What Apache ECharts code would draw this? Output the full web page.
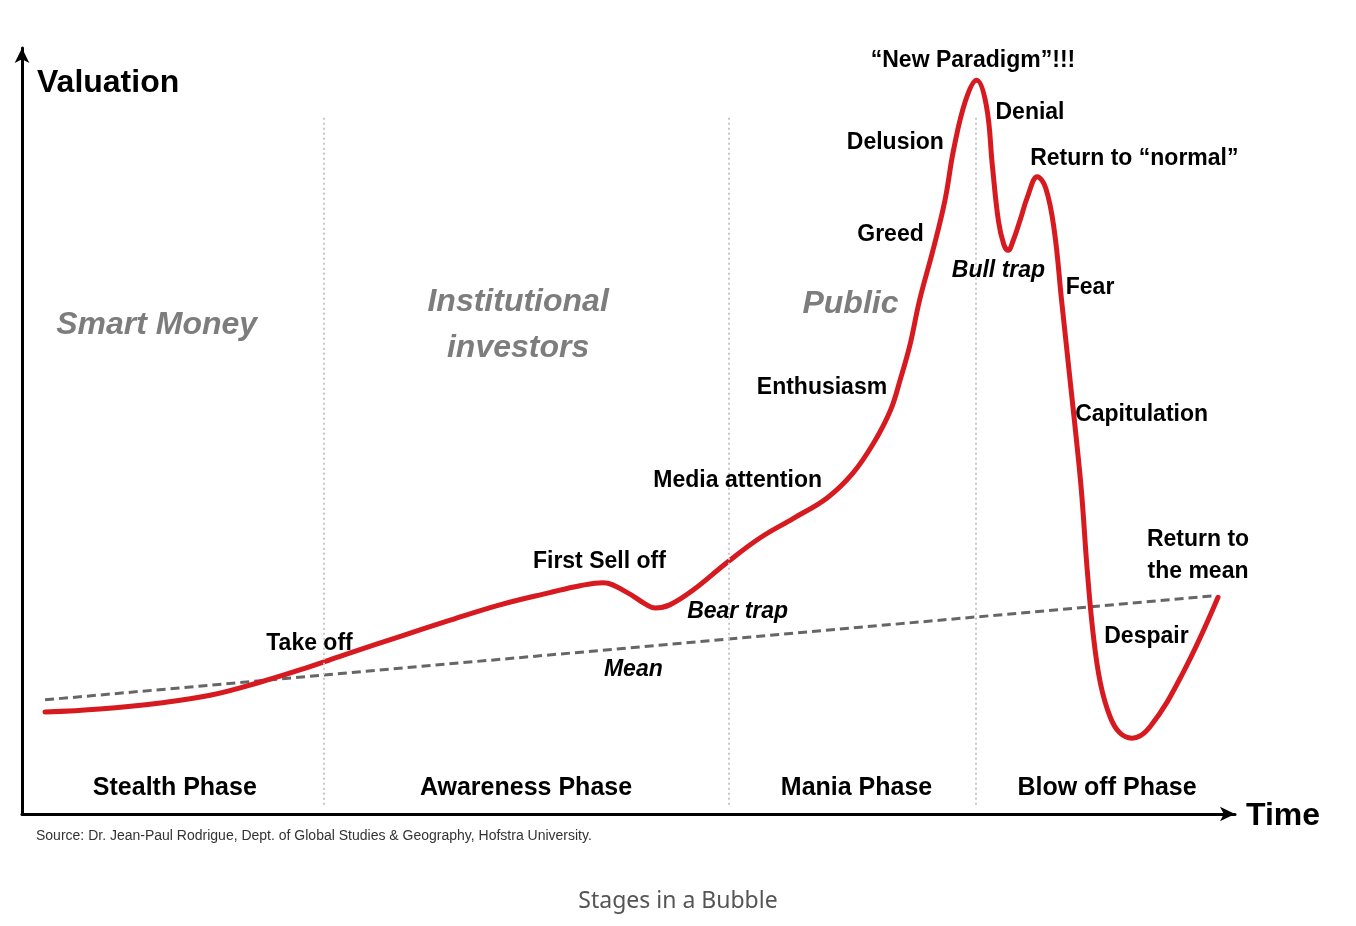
<!DOCTYPE html>
<html>
<head>
<meta charset="utf-8">
<title>Stages in a Bubble</title>
<script src="https://cdn.jsdelivr.net/npm/echarts@6/dist/echarts.min.js"></script>
<style>
  html, body { margin: 0; padding: 0; background: #fff; }
  #main { width: 1356px; height: 926px; }
</style>
</head>
<body>
<div id="main"></div>
<script>
// time (0-100) / valuation (0-100)
var bubbleTime = [1.9, 6.4, 11.4, 15.5, 19.6, 22.9, 27.0, 31.2, 35.3, 39.4, 43.5, 46.0, 47.9, 49.9, 51.4, 52.2, 53.4, 55.3, 58.1, 60.8, 63.6, 66.4, 68.5, 70.2, 71.6, 72.4, 73.2, 74.0, 75.1, 76.1, 76.8, 77.8, 78.7, 79.5, 80.0, 80.5, 80.95, 81.3, 81.7, 82.3, 82.9, 83.7, 84.4, 85.1, 85.7, 86.4, 87.1, 87.4, 87.8, 88.3, 88.9, 89.7, 90.5, 91.5, 93.0, 95.7, 98.6];
var bubbleValue = [13.3, 13.7, 14.5, 15.5, 17.2, 18.8, 21.0, 23.2, 25.3, 27.3, 28.9, 29.8, 30.2, 28.9, 27.4, 26.9, 27.3, 29.2, 32.8, 36.0, 38.6, 41.3, 44.5, 48.4, 52.7, 56.7, 61.2, 67.1, 73.6, 80.2, 86.7, 93.2, 95.8, 92.5, 84.6, 77.4, 74.3, 73.6, 74.8, 77.6, 80.6, 83.2, 81.7, 76.2, 67.1, 56.7, 46.2, 41.0, 32.2, 23.6, 17.1, 12.7, 10.6, 9.9, 11.4, 18.4, 28.3];

var meanTime = [1.9, 98.35];
var meanValue = [14.9, 28.5];

var phaseBounds = [24.9, 58.3, 78.6];

var phaseLabels = [
  [12.6, 3.4, 'Stealth Phase'],
  [41.55, 3.4, 'Awareness Phase'],
  [68.8, 3.4, 'Mania Phase'],
  [89.45, 3.4, 'Blow off Phase']
];

var crowdLabels = [
  [11.1, 63.8, 'Smart Money'],
  [40.9, 63.8, 'Institutional\ninvestors'],
  [68.3, 66.6, 'Public']
];

var moodLabels = [
  [23.7, 22.3, 'Take off'],
  [47.6, 32.9, 'First Sell off'],
  [59.0, 43.5, 'Media attention'],
  [65.95, 55.7, 'Enthusiasm'],
  [71.6, 75.6, 'Greed'],
  [72.0, 87.6, 'Delusion'],
  [78.4, 98.3, '\u201cNew Paradigm\u201d!!!'],
  [83.1, 91.5, 'Denial'],
  [91.7, 85.5, 'Return to \u201cnormal\u201d'],
  [88.05, 68.7, 'Fear'],
  [92.3, 52.1, 'Capitulation'],
  [96.95, 33.7, 'Return to\nthe mean'],
  [92.7, 23.1, 'Despair']
];

var trapLabels = [
  [59.0, 26.4, 'Bear trap'],
  [50.4, 18.8, 'Mean'],
  [80.5, 70.9, 'Bull trap']
];

var font = "'Liberation Sans', Arial, sans-serif";

var myChart = echarts.init(document.getElementById('main'));

function zip(xs, ys) {
  return xs.map(function (x, i) { return [x, ys[i]]; });
}

function textSeries(name, data, style) {
  return {
    name: name,
    type: 'scatter',
    data: data,
    symbolSize: 0,
    silent: true,
    z: 5,
    itemStyle: { opacity: 1 },
    label: Object.assign({
      show: true,
      position: 'inside',
      formatter: function (p) { return p.data[2]; },
      fontFamily: font,
      fontWeight: 'bold',
      color: '#000',
      opacity: 1
    }, style)
  };
}

var option = {
  animation: false,
  backgroundColor: '#fff',
  grid: { left: 22, right: 121, top: 48, bottom: 112 },
  xAxis: {
    type: 'value', min: 0, max: 100,
    axisLine: { show: true, symbol: ['none', 'arrow'], symbolSize: [11, 15], lineStyle: { color: '#000', width: 3 } },
    axisTick: { show: false }, axisLabel: { show: false }, splitLine: { show: false }
  },
  yAxis: {
    type: 'value', min: 0, max: 100,
    axisLine: { show: true, symbol: ['none', 'arrow'], symbolSize: [11, 15], lineStyle: { color: '#000', width: 3 } },
    axisTick: { show: false }, axisLabel: { show: false }, splitLine: { show: false }
  },
  graphic: [
    { type: 'text', left: 37, top: 67, style: { text: 'Valuation', font: 'bold 32px ' + font, fill: '#000' } },
    { type: 'text', left: 1246, top: 800, style: { text: 'Time', font: 'bold 32px ' + font, fill: '#000' } },
    { type: 'text', left: 36, top: 829, style: { text: 'Source: Dr. Jean-Paul Rodrigue, Dept. of Global Studies & Geography, Hofstra University.', font: '14px ' + font, fill: '#333' } },
    { type: 'text', left: 'center', top: 890, style: { text: 'Stages in a Bubble', font: '23px "Noto Sans", sans-serif', fill: '#555' } }
  ],
  series: [
    {
      name: 'Phases',
      type: 'line',
      data: [],
      silent: true,
      markLine: {
        symbol: 'none',
        silent: true,
        label: { show: false },
        lineStyle: { color: '#c8c8c8', width: 2, type: [2, 3] },
        data: phaseBounds.map(function (x) {
          return [{ coord: [x, 1.2] }, { coord: [x, 90.9] }];
        })
      }
    },
    {
      name: 'Mean',
      type: 'line',
      data: zip(meanTime, meanValue),
      showSymbol: false,
      silent: true,
      lineStyle: { color: '#666', width: 3, type: [9, 5] },
      z: 2
    },
    {
      name: 'Valuation',
      type: 'line',
      data: zip(bubbleTime, bubbleValue),
      smooth: 0.4,
      showSymbol: false,
      silent: true,
      lineStyle: { color: '#d71920', width: 5, cap: 'round', join: 'round' },
      z: 3
    },
    textSeries('phases', phaseLabels, { fontSize: 25 }),
    textSeries('crowd', crowdLabels, { fontSize: 32, fontStyle: 'italic', color: '#7d7d7d', lineHeight: 46 }),
    textSeries('mood', moodLabels, { fontSize: 23, lineHeight: 32 }),
    textSeries('traps', trapLabels, { fontSize: 23, fontStyle: 'italic' })
  ]
};
myChart.setOption(option);
</script>
</body>
</html>
